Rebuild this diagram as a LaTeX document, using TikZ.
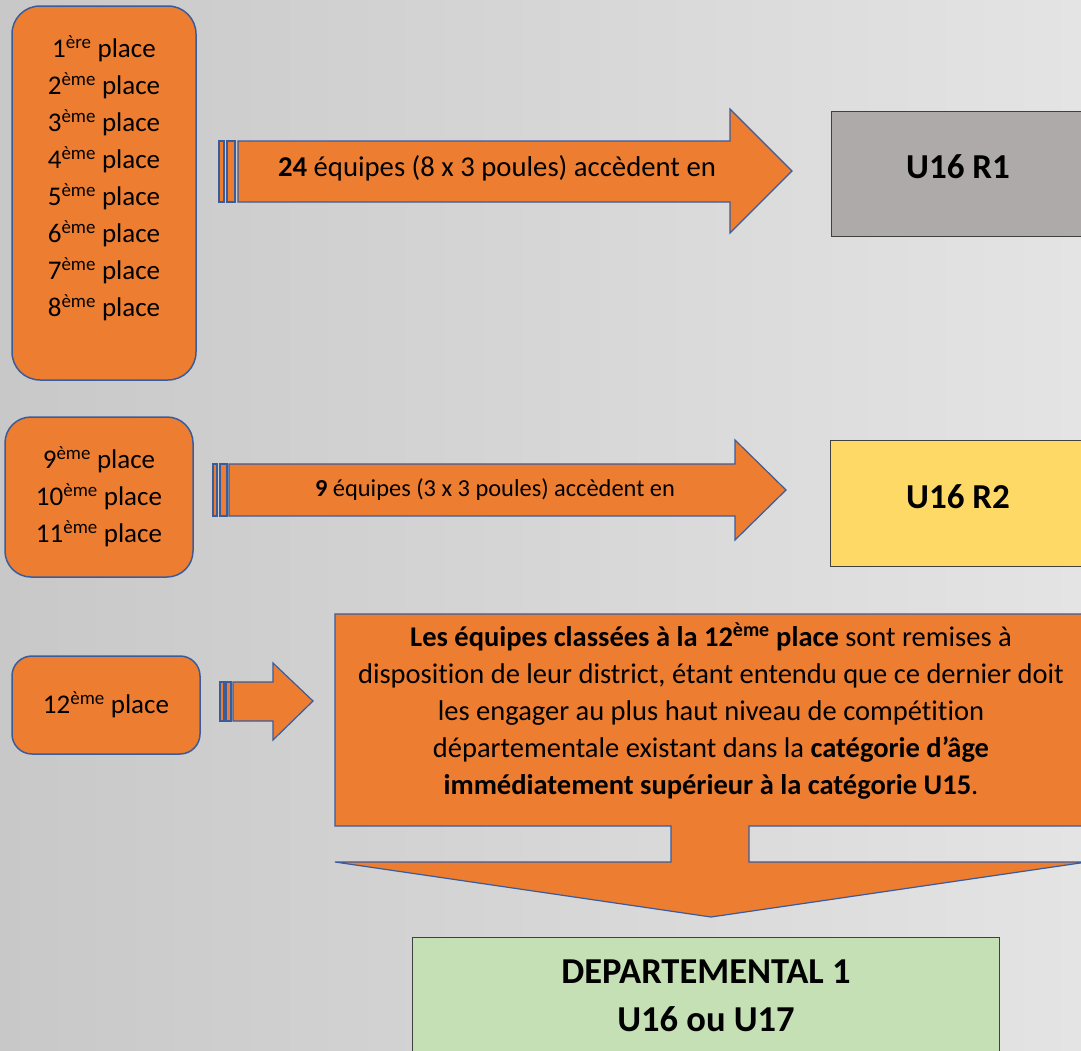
\documentclass[tikz,border=0pt]{standalone}
\usepackage{fontspec}
\setmainfont{Carlito}[Ligatures=NoCommon]
\definecolor{orangeff}{RGB}{237,125,49}
\definecolor{bordbleu}{RGB}{59,92,155}
\definecolor{grisR}{RGB}{174,170,170}
\definecolor{jauneR}{RGB}{255,217,102}
\definecolor{vertD}{RGB}{197,224,180}
\definecolor{fondG}{RGB}{200,200,200}
\definecolor{fondD}{RGB}{228,228,228}

\begin{document}
\begin{tikzpicture}[x=1pt,y=-1pt,
  rangbox/.style={draw=bordbleu,fill=orangeff,line width=1.5pt},
  fleche/.style={draw=bordbleu,fill=orangeff,line width=1.2pt,line join=miter},
  niveau/.style={draw=black!75,line width=1pt},
  txt/.style={inner sep=0pt,align=center,font=\fontsize{27}{37}\selectfont},
  titre/.style={inner sep=0pt,align=center,font=\fontsize{35}{48}\selectfont\bfseries}]
\useasboundingbox (0,0) rectangle (1081,1050);
\clip (0,0) rectangle (1081,1050);
% Drawing background
\shade[left color=fondG,right color=fondD] (0,0) rectangle (1081,1050);
% Done with background; drawing ranking boxes
% Box 1: places 1 to 8
\node[rangbox,rounded corners=28pt,minimum width=184pt,minimum height=374pt] (rang1) at (104,193) {};
\node[txt] (places1) at (104,178) {1\textsuperscript{ère} place\\2\textsuperscript{ème} place\\3\textsuperscript{ème} place\\4\textsuperscript{ème} place\\5\textsuperscript{ème} place\\6\textsuperscript{ème} place\\7\textsuperscript{ème} place\\8\textsuperscript{ème} place};
% Box 2: places 9 to 11
\node[rangbox,rounded corners=26pt,minimum width=188pt,minimum height=160pt,txt] (rang2) at (99,497) {9\textsuperscript{ème} place\\10\textsuperscript{ème} place\\11\textsuperscript{ème} place};
% Box 3: place 12
\node[rangbox,rounded corners=20pt,minimum width=188pt,minimum height=98pt,txt] (rang3) at (106,705) {12\textsuperscript{ème} place};
% Done with ranking boxes; drawing striped arrows
% Arrow 1
\draw[fleche] (219,141) rectangle (224,202);
\draw[fleche] (227,141) rectangle (235,202);
\draw[fleche] (238,141) -- (730,141) -- (730,109) -- (792,171) -- (730,233) -- (730,202) -- (238,202) -- cycle;
\node[txt,font=\fontsize{28.7}{37}\selectfont] (acces1) at (497,168) {\textbf{24} équipes (8 x 3 poules) accèdent en};
% Arrow 2
\draw[fleche] (213,464) rectangle (217,516);
\draw[fleche] (220,464) rectangle (227,516);
\draw[fleche] (229,464) -- (735,464) -- (735,440) -- (786,490) -- (735,540) -- (735,516) -- (229,516) -- cycle;
\node[txt,font=\fontsize{24.4}{30}\selectfont] (acces2) at (495,490) {\textbf{9} équipes (3 x 3 poules) accèdent en};
% Arrow 3
\draw[fleche] (220,682) rectangle (224,721);
\draw[fleche] (226,682) rectangle (231,721);
\draw[fleche] (233,682) -- (273,682) -- (273,663) -- (313,701) -- (273,740) -- (273,721) -- (233,721) -- cycle;
% Done with striped arrows; drawing callout
\draw[fleche] (335,614) -- (1092,614) -- (1092,826) -- (749,826) -- (749,862) -- (1087,862) -- (711,917)
  -- (335,862) -- (671,862) -- (671,826) -- (335,826) -- cycle;
\node[txt,font=\fontsize{28.5}{37}\selectfont] (remise) at (711,711) {\textbf{Les équipes classées à la 12\textsuperscript{ème} place} sont remises à\\
  disposition de leur district, étant entendu que ce dernier doit\\
  les engager au plus haut niveau de compét\kern0pt ition\\
  départementale existant dans la \textbf{catégorie d’âge}\\
  \textbf{immédiatement supérieur à la catégorie U15}.};
% Done with callout; drawing levels
\draw[niveau,fill=grisR] (831,111) rectangle (1095,236);
\node[titre] (r1) at (958,167) {U16 R1};
\draw[niveau,fill=jauneR] (830,440) rectangle (1095,566);
\node[titre] (r2) at (958,497) {U16 R2};
\draw[niveau,fill=vertD] (412,937) rectangle (999,1060);
\node[titre,font=\fontsize{36.5}{48}\selectfont\bfseries] (d1) at (706,996) {DEPARTEMENTAL 1\\U16 ou U17};
% Done with levels
\end{tikzpicture}
\end{document}
